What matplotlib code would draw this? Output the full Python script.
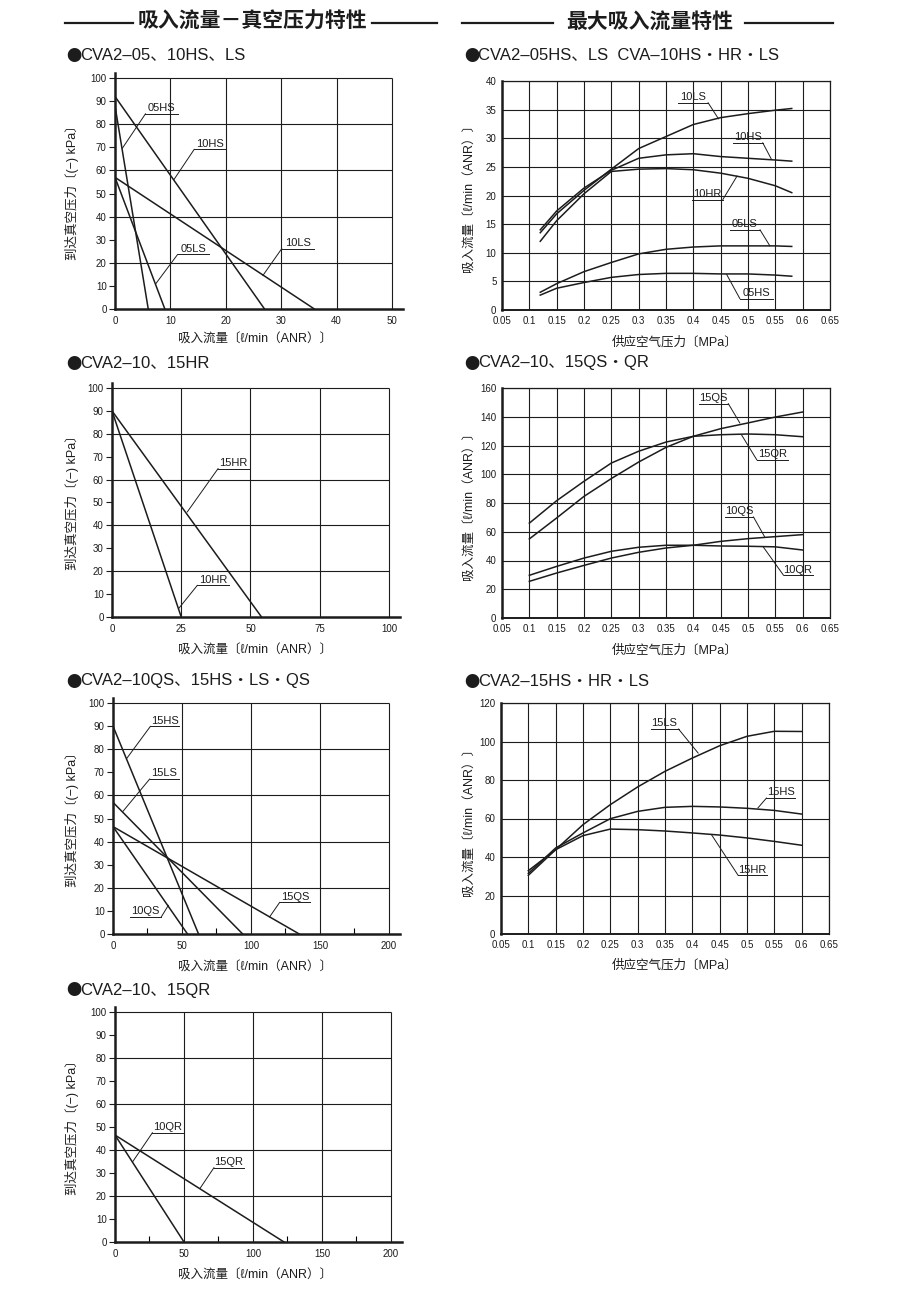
import matplotlib
matplotlib.use("Agg")
import matplotlib.pyplot as plt
from matplotlib.lines import Line2D

plt.rcParams['font.family'] = ['Liberation Sans', 'Noto Sans CJK SC', 'DejaVu Sans']

INK = '#1c1c1c'

# ---- left column: suction flow vs. vacuum (straight lines, flow at 0 kPa / vacuum at 0 flow)
p1_names = ['05HS', '10HS', '05LS', '10LS']
p1_vac = [88, 92, 57, 57]
p1_flow = [6, 27, 9, 36]

p2_names = ['10HR', '15HR']
p2_vac = [90, 90]
p2_flow = [25, 54]

p3_names = ['15HS', '15LS', '15QS', '10QS']
p3_vac = [90, 57, 46.5, 46.5]
p3_flow = [62, 94, 135, 54]

p4_names = ['10QR', '15QR']
p4_vac = [46.5, 46.5]
p4_flow = [50, 122.5]

# ---- right column: max suction flow vs. supply pressure
r1_press = [0.12, 0.15, 0.2, 0.25, 0.3, 0.35, 0.4, 0.45, 0.5, 0.55, 0.58]
r1_10LS = [13.5, 16.8, 20.9, 24.6, 28.2, 30.3, 32.4, 33.6, 34.3, 34.9, 35.2]
r1_10HS = [14.0, 17.3, 21.3, 24.4, 26.5, 27.1, 27.3, 26.8, 26.5, 26.2, 26.0]
r1_10HR = [12.0, 15.6, 20.3, 24.2, 24.6, 24.7, 24.5, 23.9, 23.0, 21.7, 20.5]
r1_05LS = [3.1, 4.6, 6.7, 8.3, 9.8, 10.6, 11.0, 11.2, 11.2, 11.2, 11.1]
r1_05HS = [2.6, 3.8, 4.8, 5.7, 6.2, 6.4, 6.4, 6.3, 6.3, 6.1, 5.9]

r2_press = [0.1, 0.15, 0.2, 0.25, 0.3, 0.35, 0.4, 0.45, 0.5, 0.55, 0.6]
r2_15QS = [55, 69.6, 84.6, 97, 108.5, 118.7, 126.4, 131.7, 135.7, 139.8, 143.3]
r2_15QR = [66, 81.6, 95.1, 107.8, 116, 122.4, 126.4, 127.5, 128, 127.5, 126.1]
r2_10QS = [25.5, 31.3, 36.6, 41.7, 45.7, 48.7, 50.6, 53.3, 55.2, 56.6, 58]
r2_10QR = [29.7, 35.9, 41.7, 46.4, 49.2, 50.6, 50.6, 50.1, 49.9, 49.5, 47.3]

r3_press = [0.1, 0.15, 0.2, 0.25, 0.3, 0.35, 0.4, 0.45, 0.5, 0.55, 0.6]
r3_15LS = [30.5, 43.8, 56.8, 67.2, 76.4, 84.5, 91.4, 97.8, 102.7, 105.3, 105.2]
r3_15HS = [31.5, 44.7, 52.5, 59.9, 63.7, 65.8, 66.3, 66.0, 65.3, 64.2, 62.3]
r3_15HR = [32.9, 43.8, 51.1, 54.5, 54.2, 53.5, 52.5, 51.4, 49.9, 48.1, 46.1]

# callout labels: (text, underline x0, underline x1, underline y, pointer x, pointer y)
p1_labels = [('05HS', 5.5, 11.3, 84.5, 1.33, 69.6), ('10HS', 14.3, 20.0, 69.1, 10.66, 56.1),
             ('05LS', 11.3, 17.0, 23.6, 7.35, 10.9), ('10LS', 30.1, 36.0, 26.1, 26.7, 14.5)]
p2_labels = [('15HR', 38.3, 49.5, 64.8, 27.2, 45.9), ('10HR', 30.8, 42.2, 13.8, 24.2, 3.9)]
p3_labels = [('15HS', 27.1, 47.8, 89.9, 9.7, 75.8), ('15LS', 26.6, 47.6, 67.1, 7.2, 53.1),
             ('15QS', 120.8, 143.0, 13.7, 113.5, 7.4), ('10QS', 12.1, 35.0, 7.4, 40.1, 12.4)]
p4_labels = [('10QR', 27.1, 49.0, 47.5, 12.8, 34.9), ('15QR', 71.7, 93.5, 32.3, 61.6, 23.3)]
r1_labels = [('10LS', 0.372, 0.427, 36.2, 0.446, 33.4), ('10HS', 0.473, 0.527, 29.2, 0.543, 26.3),
             ('10HR', 0.398, 0.454, 19.3, 0.480, 23.4), ('05LS', 0.467, 0.522, 14.0, 0.540, 11.2),
             ('05HS', 0.485, 0.545, 2.0, 0.461, 6.2)]
r2_labels = [('15QS', 0.410, 0.464, 149.1, 0.485, 135.7), ('15QR', 0.516, 0.573, 110.1, 0.488, 127.5),
             ('10QS', 0.458, 0.510, 70.3, 0.531, 56.1), ('10QR', 0.565, 0.618, 29.7, 0.528, 49.4)]
r3_labels = [('15LS', 0.3235, 0.3747, 106.5, 0.4106, 94.0), ('15HS', 0.5355, 0.5873, 70.6, 0.520, 65.5),
             ('15HR', 0.4837, 0.5367, 30.5, 0.435, 51.6)]

W, H = 900, 1300
fig = plt.figure(figsize=(9, 13), dpi=100)


def rect(x0, y_top, x1, y_bot):
    return [x0 / W, 1 - y_bot / H, (x1 - x0) / W, (y_bot - y_top) / H]


def callouts(ax, labels):
    for name, x0, x1, yl, xe, ye in labels:
        sx = x0 if abs(xe - x0) < abs(xe - x1) else x1
        ax.plot([x0, x1], [yl, yl], color=INK, lw=0.7, clip_on=False)
        ax.plot([sx, xe], [yl, ye], color=INK, lw=0.7, clip_on=False)
        ax.annotate(name, ((x0 + x1) / 2, yl), xytext=(0, 0.5), textcoords='offset points',
                    ha='center', va='bottom', fontsize=8, color=INK)


def fig_title(px, py, s):
    fig.text(px / W, 1 - (py + 1) / H, '●', fontsize=11, color=INK, ha='left', va='center',
             family=['Noto Sans CJK SC', 'DejaVu Sans'])
    fig.text((px + 14) / W, 1 - py / H, s, fontsize=12, color=INK, ha='left', va='center')


def left_panel(r, xmax, xstep, minor, names, vac, flow, labels, title, tpos, ylab_y, xlab_y):
    ax = fig.add_axes(r)
    ax.set_xlim(0, xmax * 1.04)
    ax.set_ylim(0, 102)
    ax.vlines(range(xstep, xmax + 1, xstep), 0, 100, color=INK, lw=0.8)
    ax.hlines(range(20, 101, 20), 0, xmax, color=INK, lw=0.8)
    for n, v, f in zip(names, vac, flow):
        ax.plot([0, f], [v, 0], color=INK, lw=1.1)
    callouts(ax, labels)
    for s in ['top', 'right']:
        ax.spines[s].set_visible(False)
    for s in ['left', 'bottom']:
        ax.spines[s].set_linewidth(1.8)
        ax.spines[s].set_color(INK)
    ax.set_xticks(range(0, xmax + 1, xstep))
    ax.set_yticks(range(0, 101, 10))
    if minor:
        ax.set_xticks(minor, minor=True)
        ax.tick_params(axis='x', which='minor', direction='in', length=4, width=0.8)
    ax.tick_params(axis='x', which='major', length=0, pad=5)
    ax.tick_params(axis='y', length=4, width=0.8, pad=2)
    ax.tick_params(labelsize=7, colors=INK)
    fig_title(tpos[0], tpos[1], title)
    fig.text(72 / W, 1 - ylab_y / H, '到达真空压力〔(−) kPa〕', rotation=90, fontsize=9,
             color=INK, ha='center', va='center')
    fig.text(255 / W, 1 - xlab_y / H, '吸入流量〔ℓ/min（ANR）〕', fontsize=9, color=INK,
             ha='center', va='center')
    return ax


def right_panel(r, press, series, ymax, ystep, labels, title, tpos, xlab_y):
    ax = fig.add_axes(r)
    ax.set_xlim(0.05, 0.65)
    ax.set_ylim(0, ymax)
    for s in series:
        ax.plot(press, s, color=INK, lw=1.1)
    callouts(ax, labels)
    xt = [0.05 + 0.05 * i for i in range(13)]
    ax.set_xticks(xt)
    ax.set_xticklabels(['%g' % round(t, 2) for t in xt])
    ax.set_yticks(range(0, ymax + 1, ystep))
    ax.grid(True, color=INK, lw=0.8)
    ax.set_axisbelow(True)
    for s in ax.spines.values():
        s.set_linewidth(0.9)
        s.set_color(INK)
    ax.spines['left'].set_linewidth(1.8)
    ax.spines['bottom'].set_linewidth(1.4)
    ax.tick_params(length=0, labelsize=7, colors=INK, pad=4)
    fig_title(tpos[0], tpos[1], title)
    yc = r[1] + r[3] / 2
    fig.text(470 / W, yc, '吸入流量〔ℓ/min（ANR）〕', rotation=90, fontsize=9,
             color=INK, ha='center', va='center')
    fig.text(675 / W, 1 - xlab_y / H, '供应空气压力〔MPa〕', fontsize=9, color=INK,
             ha='center', va='center')
    return ax


# section headers
def header(cx, s, l0, l1, r0, r1):
    fig.text(cx / W, 1 - 22 / H, s, fontsize=15, fontweight='bold', color=INK,
             ha='center', va='center')
    for a, b in [(l0, l1), (r0, r1)]:
        fig.add_artist(Line2D([a / W, b / W], [1 - 23 / H, 1 - 23 / H], color=INK, lw=1.6))


header(252, '吸入流量－真空压力特性', 65, 133, 372, 437)
header(650, '最大吸入流量特性', 462, 553, 745, 833)

left_panel(rect(115, 73.4, 403, 309), 50, 10, None, p1_names, p1_vac, p1_flow, p1_labels,
           'CVA2–05、10HS、LS', (66, 55), 190, 340)
left_panel(rect(112, 383.4, 400, 617), 100, 25, None, p2_names, p2_vac, p2_flow, p2_labels,
           'CVA2–10、15HR', (66, 363), 500, 651)
left_panel(rect(113, 698.4, 400, 934), 200, 50, [25, 75, 125, 175], p3_names, p3_vac, p3_flow,
           p3_labels, 'CVA2–10QS、15HS・LS・QS', (66, 681), 817, 968)
left_panel(rect(115, 1007.4, 402, 1242), 200, 50, [25, 75, 125, 175], p4_names, p4_vac, p4_flow,
           p4_labels, 'CVA2–10、15QR', (66, 990), 1125, 1276)

right_panel(rect(502, 81, 830, 310), r1_press, [r1_10LS, r1_10HS, r1_10HR, r1_05LS, r1_05HS],
            40, 5, r1_labels, 'CVA2–05HS、LS  CVA–10HS・HR・LS', (464, 55), 342)
right_panel(rect(502, 388, 830, 618), r2_press, [r2_15QS, r2_15QR, r2_10QS, r2_10QR],
            160, 20, r2_labels, 'CVA2–10、15QS・QR', (464, 363), 650)
right_panel(rect(501, 703, 829, 934), r3_press, [r3_15LS, r3_15HS, r3_15HR],
            120, 20, r3_labels, 'CVA2–15HS・HR・LS', (464, 681), 965)

fig.savefig('out.png', dpi=100, facecolor='white')
